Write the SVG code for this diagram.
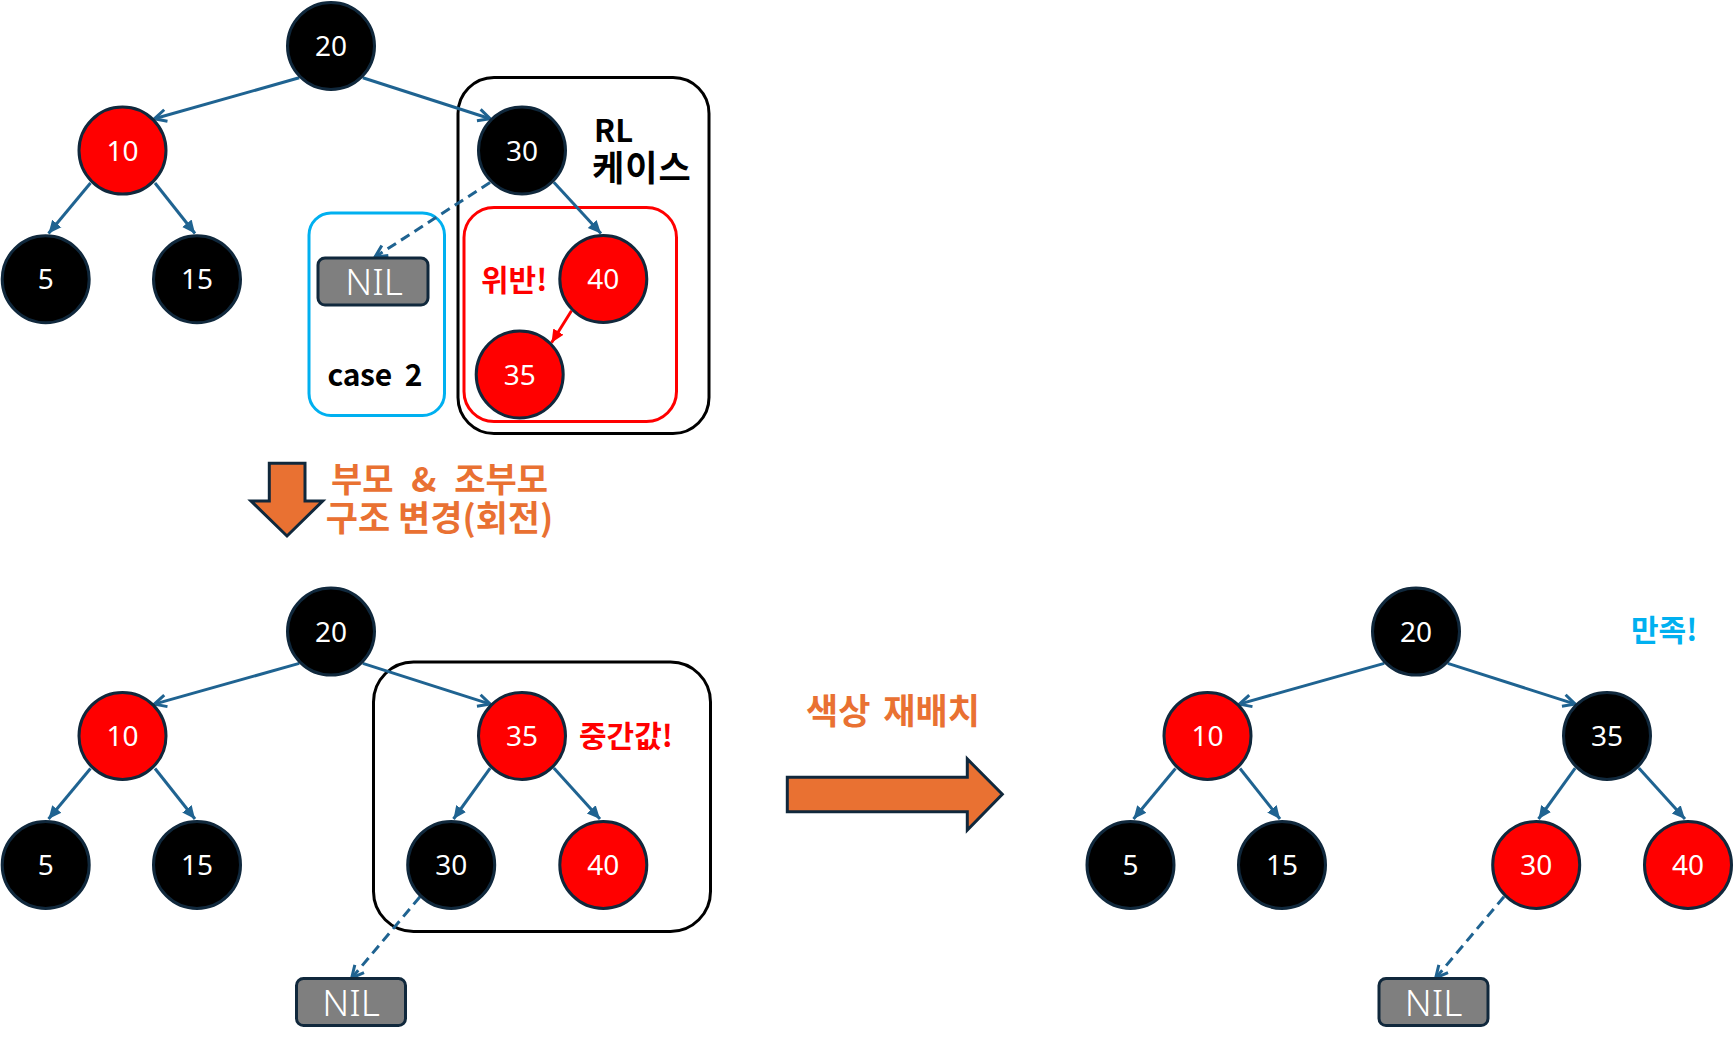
<svg xmlns="http://www.w3.org/2000/svg" width="1734" height="1047" viewBox="0 0 1734 1047">
<style>
.nb{fill:#000000;stroke:#10283C;stroke-width:3}
.nr{fill:#FF0000;stroke:#10283C;stroke-width:3}
.nl{fill:#FFFFFF;font-family:"Noto Sans","Open Sans",sans-serif;font-size:28px;text-anchor:middle}
.nil{fill:#7F7F7F;stroke:#10283C;stroke-width:3}
.nilt{fill:#FFFFFF;font-family:"Noto Sans","Open Sans",sans-serif;font-size:37px;font-weight:300;text-anchor:middle}
.e{stroke:#1F6391;stroke-width:3;fill:none}
.d{stroke-dasharray:10 6}
.kb{font-family:"Noto Sans CJK KR","Noto Sans",sans-serif;font-weight:bold}
.blk{fill:#E97132;stroke:#10283C;stroke-width:3;stroke-linejoin:miter}
</style>
<defs>
<marker id="open" viewBox="0 0 16 16" markerWidth="16" markerHeight="16" refX="14" refY="8" orient="auto" markerUnits="userSpaceOnUse">
<path d="M2,2 L14,8 L2,14" fill="none" stroke="#1F6391" stroke-width="3"/>
</marker>
<marker id="tri" viewBox="0 0 14 14" markerWidth="14" markerHeight="14" refX="13" refY="7" orient="auto" markerUnits="userSpaceOnUse">
<path d="M0,1 L13,7 L0,13 z" fill="#1F6391"/>
</marker>
<marker id="trired" viewBox="0 0 14 14" markerWidth="14" markerHeight="14" refX="13" refY="7" orient="auto" markerUnits="userSpaceOnUse">
<path d="M0,1 L13,7 L0,13 z" fill="#FF0000"/>
</marker>
</defs>
<rect width="1734" height="1047" fill="#FFFFFF"/>

<!-- boxes -->
<g id="box-rl">
<rect x="458" y="77.5" width="251" height="356" rx="36" fill="none" stroke="#000000" stroke-width="3"/>
<text x="594" y="142" class="kb" font-size="31" fill="#000000">RL</text>
<text x="592" y="181" class="kb" font-size="35" fill="#000000" letter-spacing="1">케이스</text>
</g>
<g id="box-violation">
<rect x="464" y="207.5" width="212.5" height="214" rx="30" fill="none" stroke="#FF0000" stroke-width="3"/>
<text x="481" y="291" class="kb" font-size="30" fill="#FF0000">위반!</text>
</g>
<g id="box-case2">
<rect x="309" y="213" width="135.5" height="202.5" rx="22" fill="none" stroke="#00B0F0" stroke-width="3"/>
<text x="327.5" y="386" class="kb" font-size="30" fill="#000000" textLength="95" xml:space="preserve">case  2</text>
</g>
<g id="box-mid">
<rect x="373.5" y="662" width="337" height="269.5" rx="40" fill="none" stroke="#000000" stroke-width="3"/>
<text x="579" y="747" class="kb" font-size="30" fill="#FF0000">중간값!</text>
</g>

<!-- connectors -->
<g id="connectors">
<line class="e" x1="299.2" y1="77.8" x2="154.3" y2="118.8" marker-end="url(#open)"/>
<line class="e" x1="362.8" y1="77.8" x2="490.2" y2="118.7" marker-end="url(#open)"/>
<line class="e" x1="90.5" y1="183" x2="48.5" y2="233.5" marker-end="url(#tri)"/>
<line class="e" x1="155" y1="183" x2="195" y2="233.5" marker-end="url(#tri)"/>
<line class="e" x1="553.8" y1="182.3" x2="601" y2="233.5" marker-end="url(#tri)"/>
<line x1="571.5" y1="310.8" x2="551.5" y2="342.7" stroke="#FF0000" stroke-width="3" marker-end="url(#trired)"/>
<line class="e d" x1="490" y1="182.5" x2="375" y2="257" marker-end="url(#open)"/>

<line class="e" x1="299.2" y1="663.4" x2="154.3" y2="704.1" marker-end="url(#open)"/>
<line class="e" x1="362.8" y1="663.4" x2="490.2" y2="704.1" marker-end="url(#open)"/>
<line class="e" x1="90.5" y1="768.5" x2="48.5" y2="819" marker-end="url(#tri)"/>
<line class="e" x1="155" y1="768.5" x2="195" y2="819" marker-end="url(#tri)"/>
<line class="e" x1="490.2" y1="768.1" x2="453.5" y2="819" marker-end="url(#tri)"/>
<line class="e" x1="553.8" y1="768.1" x2="600" y2="819" marker-end="url(#tri)"/>
<line class="e d" x1="420" y1="896.7" x2="351.7" y2="978" marker-end="url(#open)"/>

<line class="e" x1="1384.2" y1="663.4" x2="1239.3" y2="704.1" marker-end="url(#open)"/>
<line class="e" x1="1447.8" y1="663.4" x2="1575.2" y2="704.1" marker-end="url(#open)"/>
<line class="e" x1="1175.5" y1="768.5" x2="1133.5" y2="819" marker-end="url(#tri)"/>
<line class="e" x1="1240" y1="768.5" x2="1280" y2="819" marker-end="url(#tri)"/>
<line class="e" x1="1575.2" y1="768.1" x2="1538.5" y2="819" marker-end="url(#tri)"/>
<line class="e" x1="1638.8" y1="768.1" x2="1685" y2="819" marker-end="url(#tri)"/>
<line class="e d" x1="1504" y1="896.7" x2="1435.7" y2="978" marker-end="url(#open)"/>
</g>

<!-- top tree -->
<g id="t1-20"><circle class="nb" cx="331" cy="46" r="43.5"/><text class="nl" x="331" y="56">20</text></g>
<g id="t1-10"><circle class="nr" cx="122.5" cy="150.6" r="43.5"/><text class="nl" x="122.5" y="160.6">10</text></g>
<g id="t1-30"><circle class="nb" cx="522" cy="150.5" r="43.5"/><text class="nl" x="522" y="160.5">30</text></g>
<g id="t1-5"><circle class="nb" cx="45.7" cy="279.3" r="43.5"/><text class="nl" x="45.7" y="289.3">5</text></g>
<g id="t1-15"><circle class="nb" cx="197" cy="279.3" r="43.5"/><text class="nl" x="197" y="289.3">15</text></g>
<g id="t1-40"><circle class="nr" cx="603.3" cy="279" r="43.5"/><text class="nl" x="603.3" y="289">40</text></g>
<g id="t1-35"><circle class="nr" cx="519.7" cy="374.5" r="43.5"/><text class="nl" x="519.7" y="384.5">35</text></g>
<g id="t1-nil"><rect class="nil" x="318" y="258" width="110" height="47" rx="7"/><text class="nilt" x="374" y="295">NIL</text></g>

<!-- transition 1 -->
<g id="arrow-down">
<polygon class="blk" points="269.3,463.3 305,463.3 305,501 322.7,501 287,536 251,501 269.3,501"/>
<text x="439.5" y="492" class="kb" font-size="34" fill="#E97132" text-anchor="middle" word-spacing="10" xml:space="preserve">부모 &amp; 조부모</text>
<text x="439.5" y="531" class="kb" font-size="35" fill="#E97132" text-anchor="middle">구조 변경(회전)</text>
</g>

<!-- bottom-left tree -->
<g id="t2-20"><circle class="nb" cx="331" cy="631.6" r="43.5"/><text class="nl" x="331" y="641.6">20</text></g>
<g id="t2-10"><circle class="nr" cx="122.5" cy="735.9" r="43.5"/><text class="nl" x="122.5" y="745.9">10</text></g>
<g id="t2-35"><circle class="nr" cx="522" cy="735.9" r="43.5"/><text class="nl" x="522" y="745.9">35</text></g>
<g id="t2-5"><circle class="nb" cx="45.7" cy="864.9" r="43.5"/><text class="nl" x="45.7" y="874.9">5</text></g>
<g id="t2-15"><circle class="nb" cx="197" cy="864.9" r="43.5"/><text class="nl" x="197" y="874.9">15</text></g>
<g id="t2-30"><circle class="nb" cx="451.2" cy="864.9" r="43.5"/><text class="nl" x="451.2" y="874.9">30</text></g>
<g id="t2-40"><circle class="nr" cx="603.3" cy="864.9" r="43.5"/><text class="nl" x="603.3" y="874.9">40</text></g>
<g id="t2-nil"><rect class="nil" x="296.5" y="978.5" width="109" height="47" rx="7"/><text class="nilt" x="351" y="1015.5">NIL</text></g>

<!-- transition 2 -->
<g id="arrow-right">
<polygon class="blk" points="787.3,777.3 967.3,777.3 967.3,759 1002.3,794.3 967.3,830 967.3,811.7 787.3,811.7"/>
<text x="893" y="724" class="kb" font-size="35" fill="#E97132" text-anchor="middle" word-spacing="5">색상 재배치</text>
</g>

<!-- right tree -->
<g id="t3-20"><circle class="nb" cx="1416" cy="631.6" r="43.5"/><text class="nl" x="1416" y="641.6">20</text></g>
<g id="t3-10"><circle class="nr" cx="1207.5" cy="735.9" r="43.5"/><text class="nl" x="1207.5" y="745.9">10</text></g>
<g id="t3-35"><circle class="nb" cx="1607" cy="735.9" r="43.5"/><text class="nl" x="1607" y="745.9">35</text></g>
<g id="t3-5"><circle class="nb" cx="1130.5" cy="864.9" r="43.5"/><text class="nl" x="1130.5" y="874.9">5</text></g>
<g id="t3-15"><circle class="nb" cx="1282" cy="864.9" r="43.5"/><text class="nl" x="1282" y="874.9">15</text></g>
<g id="t3-30"><circle class="nr" cx="1536.2" cy="864.9" r="43.5"/><text class="nl" x="1536.2" y="874.9">30</text></g>
<g id="t3-40"><circle class="nr" cx="1688" cy="864.9" r="43.5"/><text class="nl" x="1688" y="874.9">40</text></g>
<g id="t3-nil"><rect class="nil" x="1379" y="978.5" width="109" height="47" rx="7"/><text class="nilt" x="1433.5" y="1015.5">NIL</text></g>
<g id="label-ok"><text x="1631" y="641" class="kb" font-size="30" fill="#00B0F0">만족!</text></g>
</svg>
